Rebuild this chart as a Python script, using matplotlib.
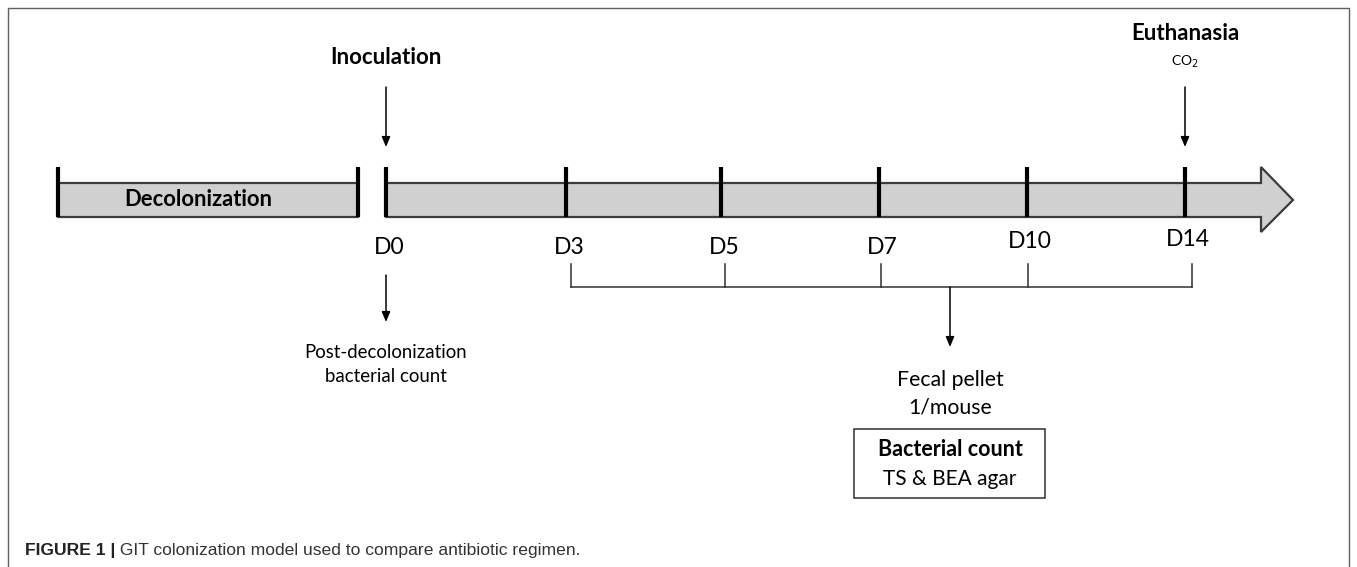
import matplotlib
matplotlib.use("Agg")
import matplotlib.pyplot as plt
from matplotlib.patches import Polygon, Rectangle

# timeline content
day_labels = ["D0", "D3", "D5", "D7", "D10", "D14"]
start_event = "Inoculation"
end_event = "Euthanasia"
end_note = "CO$_2$"
phase_label = "Decolonization"
d0_note = ["Post-decolonization", "bacterial count"]
sample_note = ["Fecal pellet", "1/mouse"]
box_title = "Bacterial count"
box_text = "TS & BEA agar"
caption_bold = "FIGURE 1 |"
caption_text = " GIT colonization model used to compare antibiotic regimen."

# layout (pixel space of the 1357x567 canvas)
tick_x = [386, 566, 721, 879, 1027, 1185]
label_y = [247, 247, 247, 247, 241, 239]
bracket_x = [571, 725, 881, 1028, 1192]
bar_top, bar_bot, tick_top = 183, 217, 167
grey = "#d0d0d0"
edge = "#3c3c3c"
font = "Lato"

fig = plt.figure(figsize=(13.57, 5.67), dpi=100)
ax = fig.add_axes([0, 0, 1, 1])
ax.set_xlim(0, 1357)
ax.set_ylim(567, 0)
ax.axis("off")

# frame
ax.plot([8, 8, 1349, 1349], [567, 8, 8, 567], color="#606060", lw=1.0)

# decolonization block
ax.add_patch(Rectangle((58, bar_top), 300, bar_bot - bar_top, facecolor=grey,
                       edgecolor=edge, lw=1.6))
for x in (58, 358):
    ax.plot([x, x], [tick_top, bar_bot], color="black", lw=3.0,
            solid_capstyle="butt")
ax.text(198, 200, phase_label, ha="center", va="center", fontsize=15.8,
        fontweight="bold", family=font)

# main timeline arrow
shaft_end, tip_x, mid_y = 1261, 1293, (bar_top + bar_bot) / 2
ax.add_patch(Polygon([(tick_x[0], bar_top), (shaft_end, bar_top),
                      (shaft_end, 167), (tip_x, mid_y), (shaft_end, 232),
                      (shaft_end, bar_bot), (tick_x[0], bar_bot)],
                     closed=True, facecolor=grey, edgecolor=edge, lw=1.6))
for x, lab, ly in zip(tick_x, day_labels, label_y):
    ax.plot([x, x], [tick_top, bar_bot], color="black", lw=3.0,
            solid_capstyle="butt")
    ax.text(x + 3, ly, lab, ha="center", va="center", fontsize=16.5,
            family=font)

arrow_kw = dict(arrowstyle="-|>,head_length=0.6,head_width=0.25",
                color="black", lw=1.1, shrinkA=0, shrinkB=0)

# events above the timeline
ax.text(tick_x[0], 58, start_event, ha="center", va="center", fontsize=16,
        fontweight="bold", family=font)
ax.annotate("", xy=(tick_x[0], 147), xytext=(tick_x[0], 87),
            arrowprops=arrow_kw)
ax.text(tick_x[-1], 33, end_event, ha="center", va="center", fontsize=16,
        fontweight="bold", family=font)
ax.text(tick_x[-1], 62, end_note, ha="center", va="center", fontsize=10,
        family=font)
ax.annotate("", xy=(tick_x[-1], 147), xytext=(tick_x[-1], 87),
            arrowprops=arrow_kw)

# D0 sampling
ax.annotate("", xy=(tick_x[0], 322), xytext=(tick_x[0], 275),
            arrowprops=arrow_kw)
for line, y in zip(d0_note, (352, 376)):
    ax.text(tick_x[0], y, line, ha="center", va="center", fontsize=13.4,
            family=font)

# bracket for sampling days
ax.plot([bracket_x[0], bracket_x[-1]], [287, 287], color="#303030", lw=1.1)
for x in bracket_x:
    ax.plot([x, x], [264, 287], color="#303030", lw=1.1)
mid_x = 950
ax.annotate("", xy=(mid_x, 347), xytext=(mid_x, 287), arrowprops=arrow_kw)
for line, y in zip(sample_note, (380, 408)):
    ax.text(mid_x, y, line, ha="center", va="center", fontsize=15.3,
            family=font)

ax.add_patch(Rectangle((854, 429), 191, 69, facecolor="white",
                       edgecolor="#303030", lw=1.1))
ax.text(mid_x, 449, box_title, ha="center", va="center", fontsize=15.5,
        fontweight="bold", family=font)
ax.text(mid_x, 479, box_text, ha="center", va="center", fontsize=15,
        family=font)

# caption
cap = ax.text(25, 550, caption_bold, ha="left", va="center", fontsize=12.6,
              fontweight="bold", family="Liberation Sans", color="#222222")
ax.annotate(caption_text, xy=(1, 0.5), xycoords=cap, ha="left", va="center",
            fontsize=12.6, family="Liberation Sans", color="#333333")

fig.savefig("out.png", dpi=100)
